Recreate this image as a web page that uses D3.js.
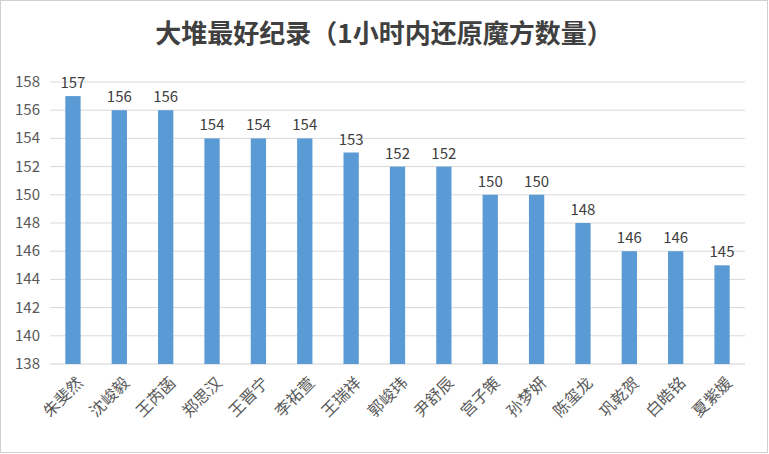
<!DOCTYPE html><html><head><meta charset="utf-8"><script src="https://cdn.jsdelivr.net/npm/d3@7"></script>
<style>body{margin:0;background:#fff}</style></head><body><svg id="c" width="769" height="454"></svg><script>
const names=["朱斐然","沈峻毅","王芮菡","郑思汉","王晋宁","李祐萱","王瑞祥","郭峻玮","尹舒辰","宫子策","孙梦妍","陈玺龙","巩乾贺","白皓铭","夏紫媛"];
const values=[157,156,156,154,154,154,153,152,152,150,150,148,146,146,145];
const ticks=[138,140,142,144,146,148,150,152,154,156,158];
const svg=d3.select("#c");
svg.append("rect").attr("x",0.5).attr("y",0.5).attr("width",767).attr("height",452).attr("fill","#fff").attr("stroke","#d0d0d0");
const x=d3.scaleBand().domain(names).range([50,745]).paddingInner(0.67).paddingOuter(0.33);
const y=d3.scaleLinear().domain([138,158]).range([364,82]);
const f="'Noto Sans CJK SC',sans-serif";
svg.append("g").selectAll("line").data(ticks).join("line").attr("x1",50).attr("x2",745).attr("y1",d=>y(d)).attr("y2",d=>y(d)).attr("stroke",(d,i)=>i==0?"#d0d0d0":"#d9d9d9").attr("stroke-width",1);
svg.append("g").selectAll("text").data(ticks).join("text").attr("x",40).attr("y",d=>y(d)+5).attr("text-anchor","end").attr("font-family",f).attr("font-size",15).attr("fill","#595959").text(d=>d);
svg.append("g").selectAll("rect").data(values).join("rect").attr("x",(d,i)=>x(names[i])).attr("width",x.bandwidth()).attr("y",d=>y(d)).attr("height",d=>y(138)-y(d)).attr("fill","#5b9bd5");
svg.append("g").selectAll("text").data(values).join("text").attr("x",(d,i)=>x(names[i])+x.bandwidth()/2).attr("y",d=>y(d)-8).attr("text-anchor","middle").attr("font-family",f).attr("font-size",15).attr("fill","#404040").text(d=>d);
svg.append("g").selectAll("text").data(names).join("text").attr("transform",d=>`translate(${x(d)+x.bandwidth()/2+7},${380}) rotate(-45)`).attr("text-anchor","end").attr("dy","0.35em").attr("font-family",f).attr("font-size",16).attr("fill","#595959").text(d=>d);
svg.append("text").attr("x",384).attr("y",43).attr("text-anchor","middle").attr("font-family",f).attr("font-size",26).attr("font-weight","bold").attr("fill","#404040").text("大堆最好纪录（1小时内还原魔方数量）");
</script></body></html>
